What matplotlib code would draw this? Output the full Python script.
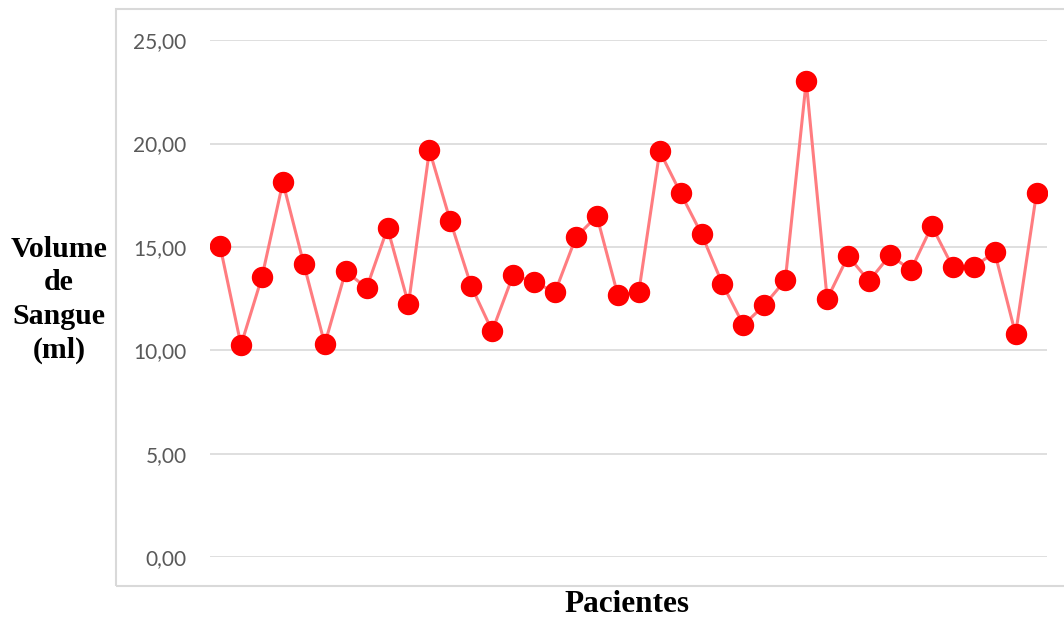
import matplotlib.pyplot as plt
from matplotlib.patches import Rectangle
from matplotlib.ticker import FuncFormatter

# volume de sangue (ml) por paciente
pacientes = list(range(1, 41))
volume = [15.04, 10.25, 13.54, 18.13, 14.17, 10.30, 13.83, 13.01, 15.91, 12.23,
          19.68, 16.25, 13.10, 10.93, 13.64, 13.30, 12.81, 15.47, 16.49, 12.67,
          12.81, 19.63, 17.60, 15.62, 13.20, 11.22, 12.19, 13.39, 23.02, 12.48,
          14.56, 13.35, 14.60, 13.88, 16.01, 14.02, 14.02, 14.75, 10.78, 17.60]
yticks = [0, 5, 10, 15, 20, 25]

fig = plt.figure(figsize=(10.64, 6.2), dpi=100)
ax = fig.add_axes([0.197, 0.1016, 0.787, 0.8336])

# moldura do grafico
fig.patches.append(Rectangle((116 / 1064, 1 - 586 / 620), 1.0, 577 / 620,
                             transform=fig.transFigure, fill=False,
                             edgecolor='#d9d9d9', linewidth=1.5))

ax.plot(pacientes, volume, color='#ff7c80', linewidth=2.2, marker='o',
        markersize=14.4, markerfacecolor='#ff0000', markeredgecolor='#ff0000',
        zorder=3)

ax.set_ylim(0, 25)
ax.set_xlim(0.5, 40.5)
ax.set_yticks(yticks)
ax.yaxis.set_major_formatter(FuncFormatter(lambda v, p: f'{v:.2f}'.replace('.', ',')))
ax.set_xticks([])
ax.grid(axis='y', color='#d9d9d9', linewidth=1.2)
ax.set_axisbelow(True)
for s in ax.spines.values():
    s.set_visible(False)
ax.tick_params(axis='y', length=0, pad=16.5, labelsize=15, labelcolor='#595959')
for lab in ax.get_yticklabels():
    lab.set_family(['Lato', 'DejaVu Sans'])

fig.text(59 / 1064, 1 - 300 / 620, 'Volume\nde\nSangue\n(ml)', ha='center',
         va='center', family='Liberation Serif', fontweight='bold', fontsize=21.5,
         linespacing=1.32)
fig.text(627 / 1064, 1 - 604 / 620, 'Pacientes', ha='center', va='center',
         family='Liberation Serif', fontweight='bold', fontsize=22.5)

fig.savefig('out.png', dpi=100)
